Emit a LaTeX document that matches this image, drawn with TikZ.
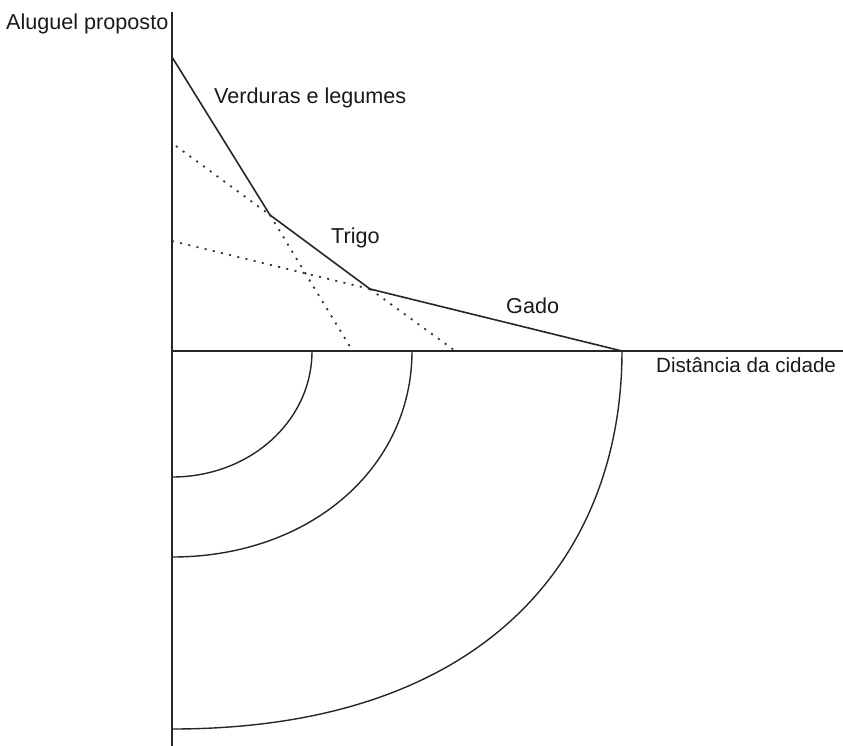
\documentclass[tikz,border=0pt]{standalone}
\usepackage{fontspec}
\setmainfont{Liberation Sans}
\begin{document}
\begin{tikzpicture}[x=1pt,y=-1pt,
  axis/.style={line width=1.8pt,color=black!85},
  curve/.style={line width=1.6pt,color=black!85},
  ring/.style={line width=1.4pt,color=black!85},
  dotline/.style={line width=1.8pt,color=black!80,dash pattern=on 2pt off 6.4pt},
  lbl/.style={anchor=base west,inner sep=0pt,font=\fontsize{21.6}{26}\selectfont,text=black!90}]
\useasboundingbox (0,0) rectangle (843,745);
% coordinates
\coordinate (top) at (172,12);
\coordinate (bot) at (172,748);
\coordinate (O) at (172,351);
\coordinate (right) at (846,351);
\coordinate (V0) at (172,57);
\coordinate (K1) at (270,215);
\coordinate (K2) at (370,289);
\coordinate (G) at (622,351);
\coordinate (T0) at (176,146);
\coordinate (VE) at (352,350);
\coordinate (G0) at (172,241);
\coordinate (TE) at (454,350);
\coordinate (A1) at (312,351);
\coordinate (B1) at (172,477);
\coordinate (A2) at (412,351);
\coordinate (B2) at (172,557);
\coordinate (B3) at (172,729);
% axes
\draw[axis] (top) -- (bot);
\draw[axis] (O) -- (right);
% dotted extensions
\draw[dotline] (T0) -- (K1);
\draw[dotline] (K1) -- (VE);
\draw[dotline] (G0) -- (K2);
\draw[dotline] (K2) -- (TE);
% bid-rent curve
\draw[curve] (V0) -- (K1) -- (K2) -- (G);
% rings
\draw[ring] (A1) .. controls (312,421) and (250,477) .. (B1);
\draw[ring] (A2) .. controls (412,468) and (310,557) .. (B2);
\draw[ring] (G) .. controls (622,551) and (492,729) .. (B3);
% labels
\node[lbl] (l1) at (6,29) {Aluguel proposto};
\node[lbl] (l2) at (214,103) {Verduras e legumes};
\node[lbl] (l3) at (331,243) {Trigo};
\node[lbl] (l4) at (506,313) {Gado};
\node[lbl,font=\fontsize{20.6}{25}\selectfont] (l5) at (656,372) {Distância da cidade};
\end{tikzpicture}
\end{document}
